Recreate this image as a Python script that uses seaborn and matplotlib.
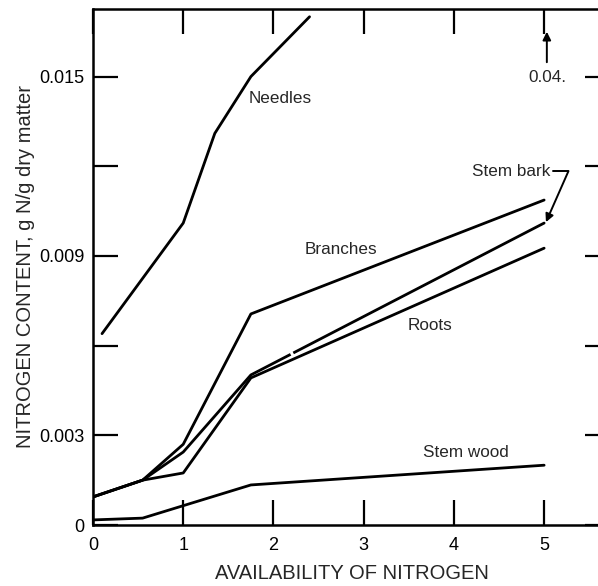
import matplotlib
matplotlib.use("Agg")
import matplotlib.pyplot as plt
import seaborn as sns
import pandas as pd

# ---- data ----
needles_x = [0.1, 1.0, 1.35, 1.75, 2.4]
needles_y = [0.0064, 0.0101, 0.0131, 0.0150, 0.0170]
branches_x = [0.0, 0.55, 1.0, 1.75, 5.0]
branches_y = [0.00094, 0.0015, 0.0027, 0.00706, 0.01087]
stembark_x = [0.0, 0.55, 1.0, 1.75, 5.0]
stembark_y = [0.00094, 0.0015, 0.00244, 0.00502, 0.0101]
roots_x = [0.0, 0.55, 1.0, 1.75, 5.0]
roots_y = [0.00094, 0.0015, 0.00174, 0.00492, 0.00926]
stemwood_x = [0.0, 0.55, 1.75, 5.0]
stemwood_y = [0.00017, 0.00023, 0.00134, 0.0020]

x_ticks = [0, 1, 2, 3, 4, 5]
y_ticks = [0.003, 0.006, 0.009, 0.012, 0.015]
y_tick_labels = ["0.003", "", "0.009", "", "0.015"]

frames = []
for name, xs, ys in [("Needles", needles_x, needles_y),
                     ("Branches", branches_x, branches_y),
                     ("Stem bark", stembark_x, stembark_y),
                     ("Roots", roots_x, roots_y),
                     ("Stem wood", stemwood_x, stemwood_y)]:
    frames.append(pd.DataFrame({"x": xs, "y": ys, "part": name}))
df = pd.concat(frames, ignore_index=True)

sns.set_theme(style="ticks")
plt.rcParams["font.family"] = ["Liberation Sans", "DejaVu Sans"]

fig = plt.figure(figsize=(5.98, 5.86), dpi=100)
ax = fig.add_axes([93 / 598, 61 / 586, (610 - 93) / 598, (525 - 9) / 586])

sns.lineplot(data=df, x="x", y="y", units="part", estimator=None,
             color="black", linewidth=2.0, sort=False, legend=False, ax=ax)

# small break in the stem bark line (as in the reference)
gx = [2.19, 2.22]
gy = [stembark_y[3] + (v - stembark_x[3]) / (stembark_x[4] - stembark_x[3])
      * (stembark_y[4] - stembark_y[3]) for v in gx]
ax.plot(gx, gy, color="white", lw=3.0, solid_capstyle="butt", zorder=5)

ax.set_xlim(0, 5.73)
ax.set_ylim(0, 0.01726)

for s in ["left", "bottom", "top"]:
    ax.spines[s].set_linewidth(1.8)
    ax.spines[s].set_color("black")
ax.spines["right"].set_visible(False)

ax.set_xticks(x_ticks)
ax.set_xticklabels([str(v) for v in x_ticks])
ax.set_yticks([0] + y_ticks)
ax.set_yticklabels(["0"] + y_tick_labels)
ax.tick_params(axis="both", direction="in", length=18, width=1.6,
               labelsize=13, colors="black", top=True, right=True)
ax.tick_params(axis="x", pad=9)
ax.tick_params(axis="y", pad=6)

ax.set_xlabel("AVAILABILITY OF NITROGEN", fontsize=14.5, labelpad=7)
ax.set_ylabel("NITROGEN CONTENT, g N/g dry matter", fontsize=14.5, labelpad=3)

fs = 12.3
ax.text(2.07, 0.01425, "Needles", fontsize=fs, ha="center", va="center")
ax.text(2.75, 0.00923, "Branches", fontsize=fs, ha="center", va="center")
ax.text(3.74, 0.00666, "Roots", fontsize=fs, ha="center", va="center")
ax.text(4.13, 0.00244, "Stem wood", fontsize=fs, ha="center", va="center")
ax.text(4.63, 0.01181, "Stem bark", fontsize=fs, ha="center", va="center")
ax.plot([5.10, 5.27], [0.01184, 0.01184], color="black", lw=1.4)
ax.annotate("", xy=(5.02, 0.01013), xytext=(5.27, 0.01184),
            arrowprops=dict(arrowstyle="-|>", color="black", lw=1.4,
                            mutation_scale=12, shrinkA=0, shrinkB=0))
ax.annotate("", xy=(5.03, 0.01650), xytext=(5.03, 0.01548),
            arrowprops=dict(arrowstyle="-|>", color="black", lw=1.4,
                            mutation_scale=12, shrinkA=0, shrinkB=0))
ax.text(4.83, 0.01498, "0.04.", fontsize=fs, ha="left", va="center")

fig.savefig("out.png", dpi=100)
